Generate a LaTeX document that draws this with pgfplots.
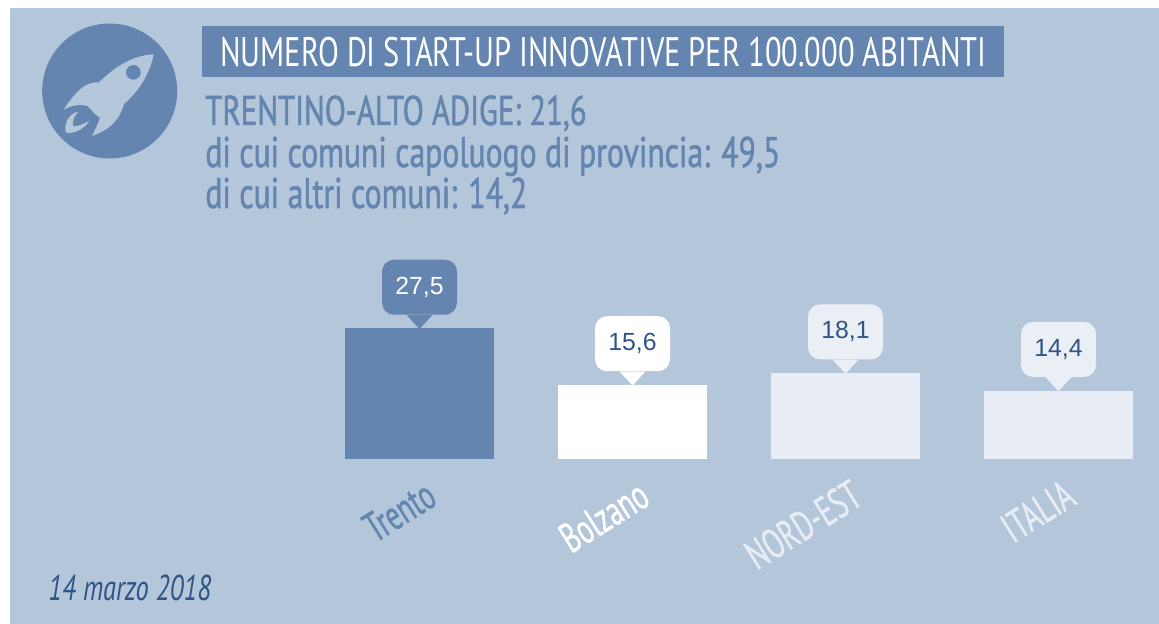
\documentclass[border=0pt]{standalone}
\usepackage{fontspec}
\setmainfont{Liberation Sans}
\newfontfamily\narrow[FakeStretch=0.74]{PT Sans}
\newfontfamily\subhead[FakeStretch=0.74,FakeBold=1.2]{PT Sans}
\newfontfamily\barname[FakeStretch=0.66,FakeBold=0.8]{PT Sans}
\usepackage{pgfplots}
\pgfplotsset{compat=1.18}
\definecolor{bg}{HTML}{B4C6D9}
\definecolor{steel}{HTML}{6485B0}
\definecolor{pale}{HTML}{E8ECF4}
\definecolor{bubble}{HTML}{EAEEF5}
\definecolor{ink}{HTML}{2F5488}
\pgfplotstableread{
k v
0 27.5
}\trento
\pgfplotstableread{
k v
1 15.6
}\bolzano
\pgfplotstableread{
k v
2 18.1
}\nordest
\pgfplotstableread{
k v
3 14.4
}\italia
% one bar with its callout: fill, bubble colour, number colour
\pgfplotsset{callout/.style n args={3}{
  ybar, fill=#1, draw=none,
  mark=triangle*, mark size=4.33pt,
  mark options={yshift=4.33pt, rotate=180, xscale=1.6, fill=#2, draw=#2},
  nodes near coords,
  every node near coord/.style={
    fill=#2, text=#3, font=\fontsize{12.4}{14}\selectfont, rounded corners=6pt,
    minimum width=37.5pt, minimum height=27.5pt, inner sep=0pt,
    anchor=south, yshift=2.3pt},
}}
\begin{document}
\begin{tikzpicture}[x=0.5pt,y=-0.5pt]
\fill[white] (0,0) rectangle (1159,624);
\fill[bg] (10,8) rectangle (1159,624);
% rocket badge
\fill[steel] (109.7,91) circle (67.5);
\begin{scope}[x=0.1667pt,y=-0.1667pt]
\fill[bg]
  (461,163) .. controls (400,165) and (345,200) .. (297,247)
  .. controls (262,245) and (235,262) .. (190,330)
  .. controls (215,315) and (240,312) .. (262,318)
  .. controls (280,335) and (290,350) .. (300,352)
  .. controls (295,370) and (285,390) .. (276,408)
  .. controls (320,392) and (355,370) .. (372,312)
  .. controls (425,265) and (450,215) .. (461,163) -- cycle;
\fill[steel] (400,217) circle (22);
\fill[bg]
  (235,335) .. controls (205,340) and (190,375) .. (198,398)
  .. controls (225,402) and (255,385) .. (268,362)
  .. controls (250,372) and (235,380) .. (220,378)
  .. controls (215,362) and (225,345) .. (235,335) -- cycle;
\end{scope}
% heading
\fill[steel] (202,26) rectangle (1004,77);
\node[anchor=base west,inner sep=0pt,text=white,font=\narrow\fontsize{20.6}{22}\selectfont] at (220,67) {NUMERO DI START-UP INNOVATIVE PER 100.000 ABITANTI};
\node[anchor=base west,inner sep=0pt,text=steel,font=\subhead\fontsize{20.8}{24}\selectfont] at (205,125) {TRENTINO-ALTO ADIGE: 21,6};
\node[anchor=base west,inner sep=0pt,text=steel,font=\subhead\fontsize{21.4}{24}\selectfont] at (205,167) {di cui comuni capoluogo di provincia: 49,5};
\node[anchor=base west,inner sep=0pt,text=steel,font=\subhead\fontsize{21.4}{24}\selectfont] at (205,208) {di cui altri comuni: 14,2};
\node[anchor=base west,inner sep=0pt,text=ink,font=\narrow\itshape\fontsize{17.9}{20}\selectfont] at (48,600) {14 marzo 2018};
\begin{axis}[
  at={(156.5pt,-229.5pt)}, anchor=south west,
  scale only axis, width=415.35pt, height=95pt,
  xmin=-0.5, xmax=3.4, ymin=0, ymax=40,
  bar width=74.5pt, bar shift=0pt,
  axis line style={draw=none}, major tick length=0pt, ytick=\empty,
  xtick={0,1,2,3},
  xticklabels={\textcolor{steel}{Trento},\textcolor{white}{Bolzano},\textcolor{pale}{NORD-EST},\textcolor{pale}{ITALIA}},
  xticklabel style={font=\barname\fontsize{21}{23}\selectfont, rotate=32, anchor=base east, xshift=0pt, yshift=-24pt},
  clip=false,
  point meta=y,
  /pgf/number format/.cd, use comma, fixed, fixed zerofill, precision=1, assume math mode=true,
  /pgfplots/.cd,
]
\addplot[callout={steel}{steel}{white}] table[x=k,y=v] {\trento};
\addplot[callout={white}{white}{ink}] table[x=k,y=v] {\bolzano};
\addplot[callout={pale}{bubble}{ink}] table[x=k,y=v] {\nordest};
\addplot[callout={pale}{bubble}{ink}] table[x=k,y=v] {\italia};
\end{axis}
\end{tikzpicture}
\end{document}
